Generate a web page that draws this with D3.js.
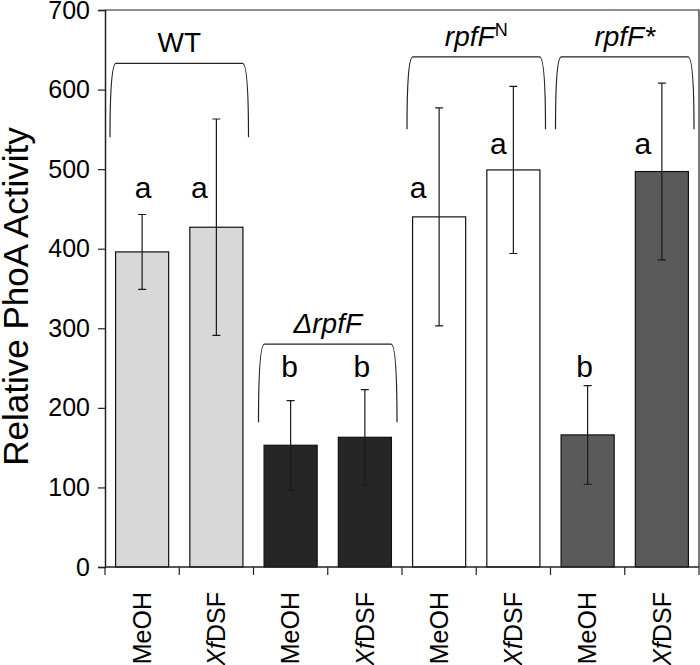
<!DOCTYPE html>
<html>
<head>
<meta charset="utf-8">
<script src="https://cdn.jsdelivr.net/npm/d3@7"></script>
<style>
  html, body { margin: 0; padding: 0; background: #fff; }
  svg { display: block; font-family: "Liberation Sans", Arial, sans-serif; }
</style>
</head>
<body>
<svg id="chart" width="700" height="665"></svg>
<script>
// ---- data ----
const treatments = ["MeOH", "XfDSF", "MeOH", "XfDSF", "MeOH", "XfDSF", "MeOH", "XfDSF"];
const strains    = ["WT", "WT", "ΔrpfF", "ΔrpfF", "rpfFN", "rpfFN", "rpfF*", "rpfF*"];
const values     = [396, 427, 153, 163, 440, 499, 166, 497];
const errors     = [47, 136, 56, 60, 137, 105, 62, 111];
const letters    = ["a", "a", "b", "b", "a", "a", "b", "a"];
const letterVals = [464, 464, 239, 239, 464, 519, 239, 519];
const yTicks     = [0, 100, 200, 300, 400, 500, 600, 700];
const groups     = ["WT", "ΔrpfF", "rpfFN", "rpfF*"];
const groupStart = [0, 2, 4, 6];
const groupEnd   = [1, 3, 5, 7];
const braceTop   = [633, 280, 641, 641];
const braceBot   = [540, 182, 550, 550];

// ---- styles ----
const colors = { "WT": "#d8d8d8", "ΔrpfF": "#262626", "rpfFN": "#ffffff", "rpfF*": "#5a5a5a" };
const letterDx = [1, -17, -1, -3, -21, -15, -3, -19];

const svg = d3.select("#chart");
const margin = { left: 105, right: 1, top: 10, bottom: 98 };
const W = 700, H = 665;

const x = d3.scaleBand().domain(d3.range(values.length)).range([margin.left, W - margin.right]).padding(0);
const y = d3.scaleLinear().domain([0, 700]).range([H - margin.bottom, margin.top]);
const barW = x.bandwidth() * 0.715;

// frame (top & right)
svg.append("path")
  .attr("d", `M${margin.left},${y(700)}H${W - margin.right}V${y(0)}`)
  .attr("fill", "none").attr("stroke", "#222").attr("stroke-width", 1.2);

// bars
svg.append("g").selectAll("rect").data(values).join("rect")
  .attr("x", (d, i) => x(i) + (x.bandwidth() - barW) / 2)
  .attr("y", d => y(d))
  .attr("width", barW)
  .attr("height", d => y(0) - y(d))
  .attr("fill", (d, i) => colors[strains[i]])
  .attr("stroke", "#111").attr("stroke-width", 1.2);

// error bars
const eg = svg.append("g").attr("stroke", "#1a1a1a").attr("stroke-width", 1.2).attr("fill", "none");
values.forEach((v, i) => {
  const cx = x(i) + x.bandwidth() / 2;
  const y1 = y(v + errors[i]), y2 = y(v - errors[i]);
  eg.append("path").attr("d", `M${cx},${y1}V${y2}M${cx - 4},${y1}H${cx + 4}M${cx - 4},${y2}H${cx + 4}`);
});

// significance letters
svg.append("g").selectAll("text").data(letters).join("text")
  .attr("x", (d, i) => x(i) + x.bandwidth() / 2 + letterDx[i])
  .attr("y", (d, i) => y(letterVals[i]))
  .attr("text-anchor", "middle")
  .attr("font-size", 30)
  .attr("fill", "#000")
  .text(d => d);

// braces and group labels
groups.forEach((g, k) => {
  const xl = x(groupStart[k]) + 5;
  const xr = x(groupEnd[k]) + x.bandwidth() - 5;
  const yt = y(braceTop[k]), yb = y(braceBot[k]);
  svg.append("path")
    .attr("d", `M${xl},${yb}Q${xl},${yt} ${xl + 6},${yt}L${xr - 6},${yt}Q${xr},${yt} ${xr},${yb}`)
    .attr("fill", "none").attr("stroke", "#222").attr("stroke-width", 1.2);
  const t = svg.append("text")
    .attr("x", (xl + xr) / 2)
    .attr("y", yt - 11)
    .attr("text-anchor", "middle")
    .attr("font-size", 28)
    .attr("fill", "#000");
  if (g === "WT") {
    t.text("WT");
  } else if (g === "rpfFN") {
    t.append("tspan").attr("font-style", "italic").text("rpfF");
    t.append("tspan").attr("font-size", 18).attr("dy", -10).text("N");
  } else {
    t.attr("font-style", "italic").text(g);
  }
});

// y axis
const yAxis = svg.append("g")
  .attr("transform", `translate(${margin.left},0)`)
  .call(d3.axisLeft(y).tickValues(yTicks).tickSize(7).tickPadding(8).tickFormat(d3.format("d")));
yAxis.select(".domain").attr("stroke", "#222").attr("stroke-width", 1.5);
yAxis.selectAll(".tick line").attr("stroke", "#222").attr("stroke-width", 1.2);
yAxis.selectAll(".tick text").attr("font-size", 25).attr("fill", "#000")
  .attr("font-family", "Liberation Sans, Arial, sans-serif");

// x axis line + ticks at band boundaries
const xg = svg.append("g");
xg.append("line")
  .attr("x1", margin.left).attr("x2", W - margin.right)
  .attr("y1", y(0)).attr("y2", y(0))
  .attr("stroke", "#222").attr("stroke-width", 1.5);
xg.selectAll("line.tk").data(d3.range(values.length + 1)).join("line")
  .attr("class", "tk")
  .attr("x1", i => margin.left + i * x.bandwidth())
  .attr("x2", i => margin.left + i * x.bandwidth())
  .attr("y1", y(0)).attr("y2", y(0) + 8)
  .attr("stroke", "#222").attr("stroke-width", 1.2);

// x labels (rotated)
xg.selectAll("text").data(treatments).join("text")
  .attr("transform", (d, i) => `translate(${x(i) + x.bandwidth() / 2},${y(0) + 25}) rotate(-90)`)
  .attr("text-anchor", "end")
  .attr("dy", "0.35em")
  .attr("font-size", 25)
  .attr("fill", "#000")
  .each(function(d) {
    const s = d3.select(this);
    if (d === "XfDSF") {
      s.append("tspan").attr("font-style", "italic").text("Xf");
      s.append("tspan").text("DSF");
    } else {
      s.text(d);
    }
  });

// y axis title
svg.append("text")
  .attr("transform", `translate(28,${(y(0) + y(700)) / 2 + 8}) rotate(-90)`)
  .attr("text-anchor", "middle")
  .attr("font-size", 35)
  .attr("fill", "#000")
  .text("Relative PhoA Activity");
</script>
</body>
</html>
